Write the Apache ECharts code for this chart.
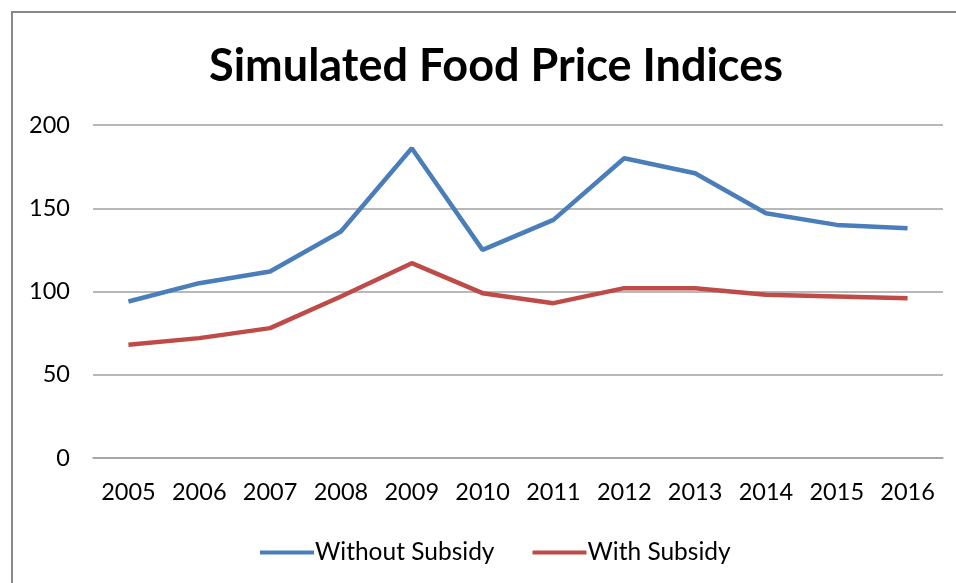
<!DOCTYPE html>
<html>
<head>
<meta charset="utf-8">
<script src="https://cdn.jsdelivr.net/npm/echarts@6/dist/echarts.min.js"></script>
<style>
html,body{margin:0;padding:0;background:#fff;}
#chart{width:956px;height:583px;}
</style>
</head>
<body>
<div id="chart"></div>
<script>
const years = ['2005','2006','2007','2008','2009','2010','2011','2012','2013','2014','2015','2016'];
const withoutSubsidy = [94, 105, 112, 136, 186, 125, 143, 180, 171, 147, 140, 138];
const withSubsidy = [68, 72, 78, 97, 117, 99, 93, 102, 102, 98, 97, 96];
const yTicks = [0, 50, 100, 150, 200];

const chart = echarts.init(document.getElementById('chart'));
const font = 'Lato, "Open Sans", sans-serif';
chart.setOption({
  animation: false,
  backgroundColor: '#fff',
  graphic: [{
    type: 'rect',
    shape: { x: 12, y: 12, width: 980, height: 620 },
    style: { fill: 'none', stroke: '#888888', lineWidth: 2 },
    silent: true
  }],
  title: {
    text: 'Simulated Food Price Indices',
    left: 491, top: 39, textAlign: 'center',
    textStyle: { fontFamily: font, fontWeight: 'bold', fontSize: 45, color: '#000' }
  },
  legend: {
    left: 255, top: 535,
    itemWidth: 54, itemHeight: 4, itemGap: 38,
    icon: 'rect',
    textStyle: { fontFamily: font, fontSize: 24.5, color: '#000', padding: [0,0,0,-4] },
    data: ['Without Subsidy', 'With Subsidy']
  },
  grid: { left: 93, right: 13, top: 125, bottom: 125 },
  xAxis: {
    type: 'category', data: years, boundaryGap: true,
    axisLine: { show: true, lineStyle: { color: '#a0a0a0', width: 1.5 } },
    axisTick: { show: false },
    axisLabel: { interval: 0, hideOverlap: false, fontFamily: font, fontSize: 23.5, color: '#000', margin: 22 }
  },
  yAxis: {
    type: 'value', min: yTicks[0], max: yTicks[yTicks.length-1], interval: 50,
    axisLine: { show: false }, axisTick: { show: false },
    splitLine: { lineStyle: { color: '#a0a0a0', width: 1.5 } },
    axisLabel: { fontFamily: font, fontSize: 23.5, color: '#000', margin: 23 }
  },
  series: [
    { name: 'Without Subsidy', type: 'line', data: withoutSubsidy, symbol: 'none',
      lineStyle: { color: '#4A7EBB', width: 4.5 }, itemStyle: { color: '#4A7EBB' } },
    { name: 'With Subsidy', type: 'line', data: withSubsidy, symbol: 'none',
      lineStyle: { color: '#BE4B48', width: 4.5 }, itemStyle: { color: '#BE4B48' } }
  ]
});
</script>
</body>
</html>
